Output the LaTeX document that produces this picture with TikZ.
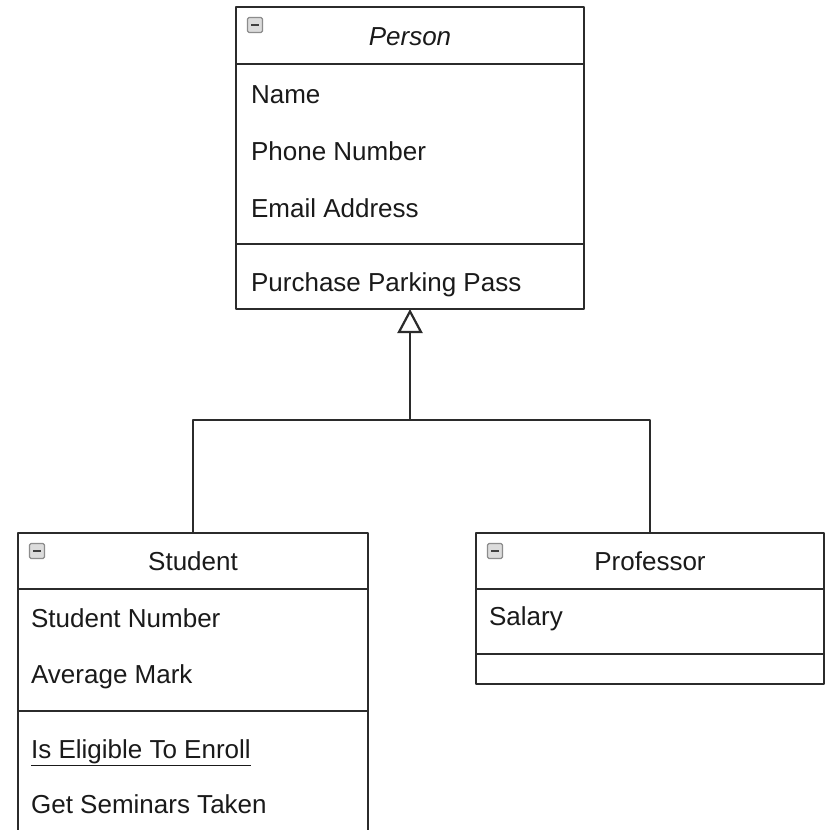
\documentclass[tikz,border=0pt]{standalone}
\usepackage{fontspec}
\setmainfont{Liberation Sans}
\usetikzlibrary{arrows.meta}
\definecolor{linecol}{HTML}{2B2B2B}
\definecolor{textcol}{HTML}{1A1A1A}
\definecolor{iconfill}{HTML}{DCDCDC}
\definecolor{iconedge}{HTML}{8C8C8C}
\begin{document}
\begin{tikzpicture}[x=1pt,y=-1pt,
  line width=2.2pt, line join=round, draw=linecol,
  umlbox/.style={draw=linecol, fill=white, inner sep=0pt, outer sep=0pt, line width=2.2pt},
  divider/.style={draw=linecol, line width=2.2pt},
  member/.style={anchor=base west, inner sep=0pt, font=\fontsize{26}{30}\selectfont, text=textcol},
  classname/.style={anchor=base, inner sep=0pt, font=\fontsize{26}{30}\selectfont, text=textcol},
  collapse/.style={rectangle, draw=iconedge, fill=iconfill, line width=1.2pt,
    rounded corners=1.5pt, minimum size=15pt, inner sep=0pt,
    path picture={\draw[line width=2.6pt, black!75]
      ([xshift=3.5pt]path picture bounding box.west) --
      ([xshift=-3.5pt]path picture bounding box.east);}},
  generalization/.style={draw=linecol, line width=2.2pt,
    -{Triangle[open, length=24pt, width=25pt]}}
]
\clip (0,0) rectangle (825,830);
\fill[white] (0,0) rectangle (825,830);

% ---- Person (abstract) ----
\node[umlbox, minimum width=348pt, minimum height=302pt] (person) at (410,158) {};
\draw[divider] (person.west |- 0,64) -- (person.east |- 0,64);
\draw[divider] (person.west |- 0,244) -- (person.east |- 0,244);
\node[collapse] (personicon) at (255,25) {};
\node[classname, font=\fontsize{26}{30}\selectfont\itshape] (persontitle) at (410,45) {Person};
\node[member] (pname)  at (250,103) {Name};
\node[member] (pphone) at (250,160) {Phone Number};
\node[member] (pemail) at (250,217) {Email Address};
\node[member] (ppark)  at (250,291) {Purchase Parking Pass};

% ---- Student ----
\node[umlbox, minimum width=350pt, minimum height=367pt] (student) at (193,716.5) {};
\draw[divider] (student.west |- 0,589) -- (student.east |- 0,589);
\draw[divider] (student.west |- 0,711) -- (student.east |- 0,711);
\node[collapse] (studenticon) at (37,551) {};
\node[classname] (studenttitle) at (193,570) {Student};
\node[member] (snumber)   at (30,627) {Student Number};
\node[member] (smark)     at (30,683) {Average Mark};
\node[member] (seligible) at (30,758) {\underline{Is Eligible To Enroll}};
\node[member] (sseminars) at (30,813) {Get Seminars Taken};

% ---- Professor ----
\node[umlbox, minimum width=348pt, minimum height=151pt] (professor) at (650,608.5) {};
\draw[divider] (professor.west |- 0,589) -- (professor.east |- 0,589);
\draw[divider] (professor.west |- 0,654) -- (professor.east |- 0,654);
\node[collapse] (professoricon) at (495,551) {};
\node[classname] (professortitle) at (650,570) {Professor};
\node[member] (salary) at (488,625) {Salary};

% ---- Generalization: shared tree into Person ----
\coordinate (fork) at (410,420);
\draw[generalization] (student.north) |- (fork) -- (person.south);
\draw[divider] (professor.north) |- (fork);
\end{tikzpicture}
\end{document}
